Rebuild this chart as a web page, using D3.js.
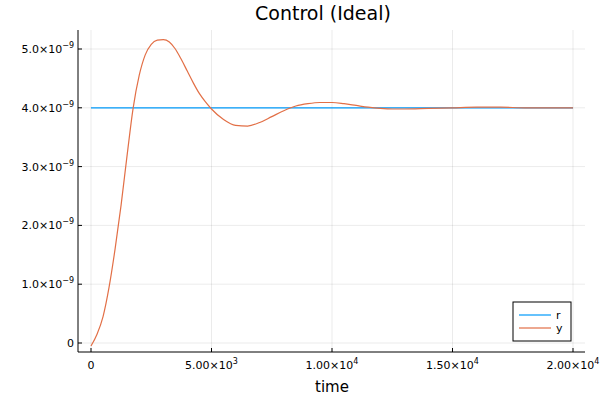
<!DOCTYPE html>
<html><head><meta charset="utf-8">
<script src="https://cdn.jsdelivr.net/npm/d3@7"></script>
<style>body{margin:0;background:#fff}text{font-family:"DejaVu Sans",sans-serif}</style>
</head><body><svg id="c" width="600" height="400"></svg>
<script>
const times = [0,250,500,750,1000,1250,1500,1750,2000,2250,2500,2750,3000,3250,3500,3750,4000,4250,4500,4750,5000,5500,6000,6500,7000,7500,8000,8500,9000,9500,10000,10500,11000,11500,12000,12500,13000,14000,15000,16000,17000,18000,20000];
const yVals = [-0.05,0.15,0.45,0.95,1.6,2.35,3.2,4.0,4.55,4.9,5.08,5.15,5.16,5.12,5.0,4.82,4.62,4.42,4.24,4.1,3.98,3.8,3.7,3.69,3.75,3.85,3.95,4.03,4.07,4.09,4.09,4.07,4.04,4.01,3.99,3.98,3.98,3.99,4.0,4.01,4.01,4.0,4.0].map(v=>v*1e-9);
const rVal = 4e-9;
const yTicks = [0,1e-9,2e-9,3e-9,4e-9,5e-9];
const yTickLabels = [["0",""],["1.0×10","−9"],["2.0×10","−9"],["3.0×10","−9"],["4.0×10","−9"],["5.0×10","−9"]];
const xTicks = [0,5000,10000,15000,20000];
const xTickLabels = [["0",""],["5.00×10","3"],["1.00×10","4"],["1.50×10","4"],["2.00×10","4"]];

const svg = d3.select("#c");
const L=78,R=585,T=30,B=352;
const x = d3.scaleLinear().domain([0,20000]).range([91,573]);
const y = d3.scaleLinear().domain([0,5e-9]).range([343,49]);
const g = svg.append("g");
xTicks.forEach((t,i)=>{
  g.append("line").attr("x1",x(t)).attr("x2",x(t)).attr("y1",T).attr("y2",B).attr("stroke","#000").attr("stroke-opacity",0.08);
  const tx = g.append("text").attr("x",x(t)).attr("y",B+17).attr("text-anchor","middle").attr("font-size",11);
  tx.append("tspan").text(xTickLabels[i][0]);
  if(xTickLabels[i][1]) tx.append("tspan").attr("dy",-5).attr("font-size",8).text(xTickLabels[i][1]);
  g.append("line").attr("x1",x(t)).attr("x2",x(t)).attr("y1",B).attr("y2",B-4).attr("stroke","#000");
});
yTicks.forEach((t,i)=>{
  g.append("line").attr("x1",L).attr("x2",R).attr("y1",y(t)).attr("y2",y(t)).attr("stroke","#000").attr("stroke-opacity",0.08);
  const tx = g.append("text").attr("x",L-4).attr("y",y(t)+4).attr("text-anchor","end").attr("font-size",11);
  tx.append("tspan").text(yTickLabels[i][0]);
  if(yTickLabels[i][1]) tx.append("tspan").attr("dy",-5).attr("font-size",8).text(yTickLabels[i][1]);
  g.append("line").attr("x1",L).attr("x2",L+4).attr("y1",y(t)).attr("y2",y(t)).attr("stroke","#000");
});
g.append("line").attr("x1",L).attr("x2",R).attr("y1",B).attr("y2",B).attr("stroke","#000");
g.append("line").attr("x1",L).attr("x2",L).attr("y1",T).attr("y2",B).attr("stroke","#000");
g.append("line").attr("x1",x(0)).attr("x2",x(20000)).attr("y1",y(rVal)).attr("y2",y(rVal)).attr("stroke","#009AFA").attr("stroke-width",1.2);
g.append("path").datum(times.map((t,i)=>[t,yVals[i]])).attr("fill","none").attr("stroke","#E26F46").attr("stroke-width",1.2)
 .attr("d",d3.line().x(d=>x(d[0])).y(d=>y(d[1])).curve(d3.curveMonotoneX));
svg.append("text").attr("x",323).attr("y",20).attr("text-anchor","middle").attr("font-size",19).text("Control (Ideal)");
svg.append("text").attr("x",332).attr("y",392).attr("text-anchor","middle").attr("font-size",15).text("time");
const lg = svg.append("g");
lg.append("rect").attr("x",513).attr("y",302).attr("width",58).attr("height",39).attr("fill","#fff").attr("stroke","#000");
[["r","#009AFA"],["y","#E26F46"]].forEach((d,i)=>{
  lg.append("line").attr("x1",519).attr("x2",551).attr("y1",315+i*13).attr("y2",315+i*13).attr("stroke",d[1]).attr("stroke-width",1.2);
  lg.append("text").attr("x",556).attr("y",319+i*13).attr("font-size",11).text(d[0]);
});
</script></body></html>
